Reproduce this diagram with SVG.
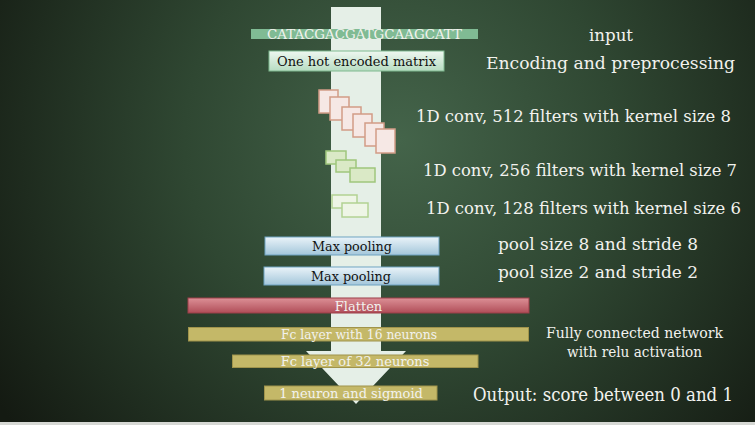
<svg xmlns="http://www.w3.org/2000/svg" width="755" height="425" viewBox="0 0 755 425">
<defs>
<radialGradient id="bg" cx="400" cy="140" r="480" gradientUnits="userSpaceOnUse">
<stop offset="0" stop-color="#44644a"/>
<stop offset="0.45" stop-color="#2f4732"/>
<stop offset="1" stop-color="#141a12"/>
</radialGradient>
<linearGradient id="gOne" x1="0" y1="0" x2="0" y2="1">
<stop offset="0" stop-color="#eef7f0"/>
<stop offset="1" stop-color="#b7dcc2"/>
</linearGradient>
<linearGradient id="gPool" x1="0" y1="0" x2="0" y2="1">
<stop offset="0" stop-color="#eaf3f9"/>
<stop offset="1" stop-color="#a3c6da"/>
</linearGradient>
<linearGradient id="gFlat" x1="0" y1="0" x2="0" y2="1">
<stop offset="0" stop-color="#dc9096"/>
<stop offset="1" stop-color="#b04d58"/>
</linearGradient>
<style>
.lbl{font-family:"DejaVu Serif","Liberation Serif",serif;fill:#f2f2ee}
.blk{font-family:"DejaVu Serif","Liberation Serif",serif;fill:#111}
.pink{fill:#f6e8e5;stroke:#d29c86;stroke-width:1.5}
.g1{fill:#dae9c6;stroke:#9fc67c;stroke-width:1.5}
.g2{fill:#eef5e6;stroke:#b3d293;stroke-width:1.5}
.fc{fill:#c4b868;stroke:#a0944c;stroke-width:1}
</style>
</defs>
<rect width="755" height="425" fill="url(#bg)"/>
<rect x="0" y="422" width="755" height="3" fill="#d6d8d4"/>

<g id="flow-arrow">
<path d="M331 7 H381 V351 H406 L356 404 L306 351 H331 Z" fill="#e5efe7"/>
</g>

<g id="input">
<rect x="251" y="29" width="227" height="10" fill="#80bb94"/>
<text x="267" y="38.5" font-size="12" class="lbl" textLength="195" lengthAdjust="spacingAndGlyphs">CATACGACGATGCAAGCATT</text>
</g>
<g id="onehot">
<rect x="269" y="51" width="175" height="20" fill="url(#gOne)" stroke="#7fb98f" stroke-width="1"/>
<text x="277" y="66" font-size="13" class="blk" textLength="159" lengthAdjust="spacingAndGlyphs">One hot encoded matrix</text>
</g>
<g id="conv512">
<rect class="pink" x="319" y="90" width="19" height="23"/>
<rect class="pink" x="330" y="97" width="19" height="23"/>
<rect class="pink" x="342" y="107" width="19" height="23"/>
<rect class="pink" x="353" y="114" width="19" height="23"/>
<rect class="pink" x="365" y="123" width="19" height="23"/>
<rect class="pink" x="376" y="129" width="19" height="24"/>
</g>
<g id="conv256">
<rect class="g1" x="326" y="151" width="20" height="13"/>
<rect class="g1" x="336" y="160" width="20" height="12"/>
<rect class="g1" x="350" y="168" width="25" height="14"/>
</g>
<g id="conv128">
<rect class="g2" x="332" y="195" width="25" height="13"/>
<rect class="g2" x="342" y="203" width="26" height="14"/>
</g>
<g id="maxpool1">
<rect x="265" y="237" width="174" height="18" fill="url(#gPool)" stroke="#6fa3c2" stroke-width="1"/>
<text x="312" y="251" font-size="13.5" class="blk" textLength="80" lengthAdjust="spacingAndGlyphs">Max pooling</text>
</g>
<g id="maxpool2">
<rect x="264" y="267" width="175" height="18" fill="url(#gPool)" stroke="#6fa3c2" stroke-width="1"/>
<text x="311" y="281" font-size="13.5" class="blk" textLength="80" lengthAdjust="spacingAndGlyphs">Max pooling</text>
</g>
<g id="flatten">
<rect x="188" y="298" width="341" height="15" fill="url(#gFlat)" stroke="#9c3f49" stroke-width="1"/>
<text x="358.5" y="310.5" text-anchor="middle" font-size="13" class="lbl">Flatten</text>
</g>
<g id="fc16">
<rect class="fc" x="188.5" y="327.5" width="340" height="13.5"/>
<text x="281" y="339" font-size="13" class="lbl" textLength="156" lengthAdjust="spacingAndGlyphs">Fc layer with 16 neurons</text>
</g>
<g id="fc32">
<rect class="fc" x="232.5" y="355" width="245.5" height="12.5"/>
<text x="355" y="366" text-anchor="middle" font-size="13" class="lbl">Fc layer of 32 neurons</text>
</g>
<g id="out">
<rect class="fc" x="264.5" y="386" width="172.5" height="14"/>
<text x="351" y="398" text-anchor="middle" font-size="13" class="lbl">1 neuron and sigmoid</text>
</g>

<g id="labels">
<text x="589" y="41" font-size="17.5" class="lbl" textLength="44" lengthAdjust="spacingAndGlyphs">input</text>
<text x="486" y="69" font-size="17.5" class="lbl" textLength="249" lengthAdjust="spacingAndGlyphs">Encoding and preprocessing</text>
<text x="416" y="122" font-size="17" class="lbl" textLength="315" lengthAdjust="spacingAndGlyphs">1D conv, 512 filters with kernel size 8</text>
<text x="423" y="176" font-size="17" class="lbl" textLength="314" lengthAdjust="spacingAndGlyphs">1D conv, 256 filters with kernel size 7</text>
<text x="426" y="214" font-size="17" class="lbl" textLength="315" lengthAdjust="spacingAndGlyphs">1D conv, 128 filters with kernel size 6</text>
<text x="498" y="250" font-size="17" class="lbl" textLength="200" lengthAdjust="spacingAndGlyphs">pool size 8 and stride 8</text>
<text x="498" y="278" font-size="17" class="lbl" textLength="200" lengthAdjust="spacingAndGlyphs">pool size 2 and stride 2</text>
<text x="546" y="338" font-size="14" class="lbl" textLength="177" lengthAdjust="spacingAndGlyphs">Fully connected network</text>
<text x="567" y="357" font-size="14" class="lbl" textLength="135" lengthAdjust="spacingAndGlyphs">with relu activation</text>
<text x="473" y="401" font-size="18" class="lbl" textLength="260" lengthAdjust="spacingAndGlyphs">Output: score between 0 and 1</text>
</g>
</svg>
